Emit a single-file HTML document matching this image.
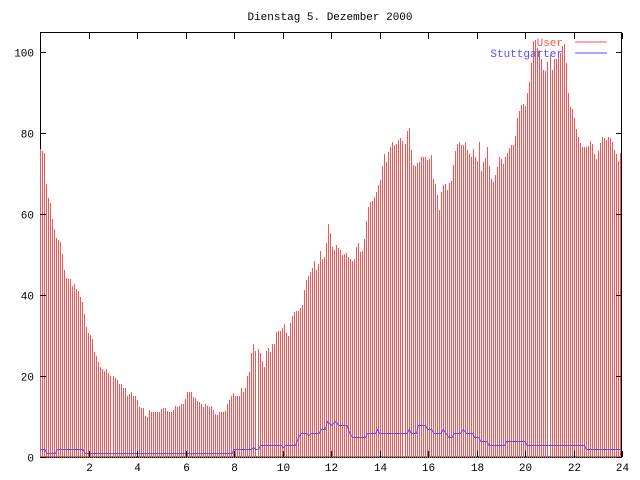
<!DOCTYPE html><html><head><meta charset="utf-8"><style>body{margin:0;background:#fff}svg{display:block}text{font-family:"Liberation Mono",monospace;font-size:11px}</style></head><body>
<svg id="s" width="640" height="480" xmlns="http://www.w3.org/2000/svg" shape-rendering="crispEdges">
<text x="330" y="20" text-anchor="middle">Dienstag 5. Dezember 2000</text>
<g id="g"></g>
<text x="563" y="46" text-anchor="end" fill="#ff5050">User</text>
<line x1="575" y1="42" x2="607" y2="42" stroke="#ff5050"/>
<text x="563" y="57" text-anchor="end" fill="#5050ff">Stuttgarter</text>
<line x1="575" y1="53" x2="607" y2="53" stroke="#5050ff"/>
</svg>
<script>
const g=document.getElementById('g'),NS='http://www.w3.org/2000/svg';
function el(t,a){const e=document.createElementNS(NS,t);for(const k in a)e.setAttribute(k,a[k]);g.appendChild(e);return e}
const X0=40.5,XS=24.23,Y0=457,YS=4.05;
const X=h=>X0+h*XS,Y=v=>Y0-v*YS;
const XZ=xz=>40.5+(xz-99)*(581.5/1421);
const P=[[99,76],[109,75],[113,68],[118,64],[123,63],[128,59],[138,54],[148,53],[153,50],[158,46],[163,44],[173,44],[178,42],[183,43],[188,41],[193,41],[198,39],[203,38],[207,35],[213,31],[222,30],[227,29],[232,25],[237,25],[242,23],[247,22],[257,21],[262,22],[267,20],[277,20],[287,19],[292,18],[297,18],[302,17],[307,17],[312,15],[322,16],[327,15],[332,15],[337,14],[342,12],[352,12],[356,10],[362,10],[366,12],[371,11],[391,11],[396,12],[406,12],[411,11],[421,11],[426,12],[431,13],[436,12],[441,13],[451,13],[456,16],[470,16],[475,14],[480,15],[485,13],[490,14],[495,12],[500,13],[505,13],[510,12],[515,13],[520,12],[525,11],[530,10],[535,11],[550,11],[555,13],[560,14],[565,15],[570,16],[575,15],[585,15],[590,17],[595,16],[600,17],[605,20],[610,21],[615,26],[620,28],[625,26],[630,27],[636,26],[641,24],[646,22],[651,26],[656,27],[661,26],[666,28],[671,28],[676,31],[686,31],[691,32],[696,33],[701,30],[706,30],[711,34],[716,35],[721,36],[731,36],[736,37],[741,38],[745,42],[750,44],[755,45],[760,46],[765,47],[770,49],[775,45],[780,49],[785,52],[790,47],[795,51],[800,54],[804,59],[809,54],[814,51],[819,51],[824,53],[829,51],[834,51],[839,49],[844,51],[849,50],[854,49],[859,49],[864,48],[869,50],[874,54],[879,51],[884,50],[889,52],[894,57],[899,61],[904,63],[909,63],[914,64],[919,65],[924,67],[929,68],[934,71],[938,76],[943,72],[948,75],[953,76],[958,78],[963,77],[968,77],[973,78],[978,79],[983,78],[988,79],[993,76],[998,84],[1003,79],[1008,73],[1013,71],[1018,73],[1023,72],[1028,74],[1043,74],[1048,72],[1053,77],[1058,69],[1063,68],[1068,66],[1073,60],[1078,65],[1083,67],[1088,68],[1092,65],[1097,68],[1102,67],[1107,71],[1112,75],[1117,77],[1122,78],[1127,77],[1132,77],[1137,78],[1142,76],[1147,75],[1152,74],[1157,76],[1162,74],[1167,73],[1172,78],[1177,70],[1182,73],[1187,74],[1192,77],[1197,71],[1202,68],[1207,68],[1212,70],[1217,72],[1222,75],[1227,73],[1232,72],[1237,75],[1242,75],[1247,77],[1257,77],[1262,81],[1267,86],[1272,85],[1277,89],[1282,85],[1287,89],[1292,91],[1297,95],[1302,101],[1306,105],[1311,101],[1316,101],[1321,100],[1326,96],[1331,95],[1336,96],[1341,100],[1346,99],[1351,95],[1356,99],[1361,98],[1366,99],[1371,100],[1376,102],[1381,102],[1386,95],[1391,87],[1396,86],[1401,86],[1406,82],[1411,80],[1416,78],[1421,77],[1426,76],[1431,77],[1436,76],[1441,78],[1446,78],[1451,76],[1456,73],[1461,75],[1466,77],[1471,79],[1476,79],[1481,78],[1486,79],[1491,79],[1496,78],[1501,76],[1506,75],[1511,73],[1516,75]].map(([a,b])=>[XZ(a),b]);
function interp(x){if(x<=P[0][0])return P[0][1];for(let i=1;i<P.length;i++)if(x<=P[i][0]){const[a,b]=P[i-1],[c,d]=P[i];return b+(d-b)*(x-a)/(c-a)}return P[P.length-1][1]}
el('rect',{x:40.5,y:32.5,width:581,height:424.5,fill:'none',stroke:'#000'});
let d='';
for(let i=0;i<=300;i++){const x=Math.round(40.017+i*2.01379);if(x>621)break;d+=`M${x+.5} ${Y0}V${Math.round(Y(interp(x+.5)))}`}
el('path',{d,stroke:'#ff5050','stroke-width':1,fill:'none'});
el('line',{x1:40,y1:457.5,x2:622,y2:457.5,stroke:'#000','stroke-dasharray':'1 1'});
const B=[[99,1348],[110,1348],[115,1360],[135,1360],[140,1348],[203,1348],[208,1360],[567,1360],[572,1348],[615,1348],[620,1342],[625,1348],[632,1348],[637,1336],[688,1336],[693,1342],[698,1336],[722,1336],[730,1312],[735,1300],[750,1300],[755,1306],[762,1300],[780,1300],[785,1288],[795,1288],[800,1264],[810,1276],[820,1264],[828,1276],[848,1276],[855,1300],[862,1312],[893,1312],[898,1300],[918,1300],[922,1288],[928,1300],[995,1300],[1000,1288],[1005,1300],[1018,1300],[1022,1276],[1040,1276],[1045,1288],[1055,1288],[1060,1300],[1078,1300],[1083,1288],[1090,1300],[1097,1312],[1105,1312],[1110,1300],[1125,1300],[1132,1288],[1140,1300],[1155,1300],[1160,1312],[1170,1312],[1175,1324],[1190,1324],[1195,1336],[1233,1336],[1238,1324],[1283,1324],[1288,1336],[1428,1336],[1433,1348],[1516,1348]];
let bd='';
B.forEach(([a,b],i)=>{bd+=(i?'L':'M')+XZ(a).toFixed(1)+' '+(Math.round(b/3)+.5)});
el('path',{d:bd,stroke:'#5050ff',fill:'none','shape-rendering':'auto'});
for(let v=0;v<=100;v+=20){const y=Math.round(Y(v))+.5;el('line',{x1:40,y1:y,x2:46,y2:y,stroke:'#000'});el('line',{x1:616,y1:y,x2:622,y2:y,stroke:'#000'});const t=el('text',{x:34,y:y+4,'text-anchor':'end'});t.textContent=v}
for(let h=2;h<=24;h+=2){const x=Math.round(X(h))+.5;el('line',{x1:x,y1:451,x2:x,y2:457,stroke:'#000'});el('line',{x1:x,y1:33,x2:x,y2:39,stroke:'#000'});const t=el('text',{x:x,y:471,'text-anchor':'middle'});t.textContent=h}
</script></body></html>
